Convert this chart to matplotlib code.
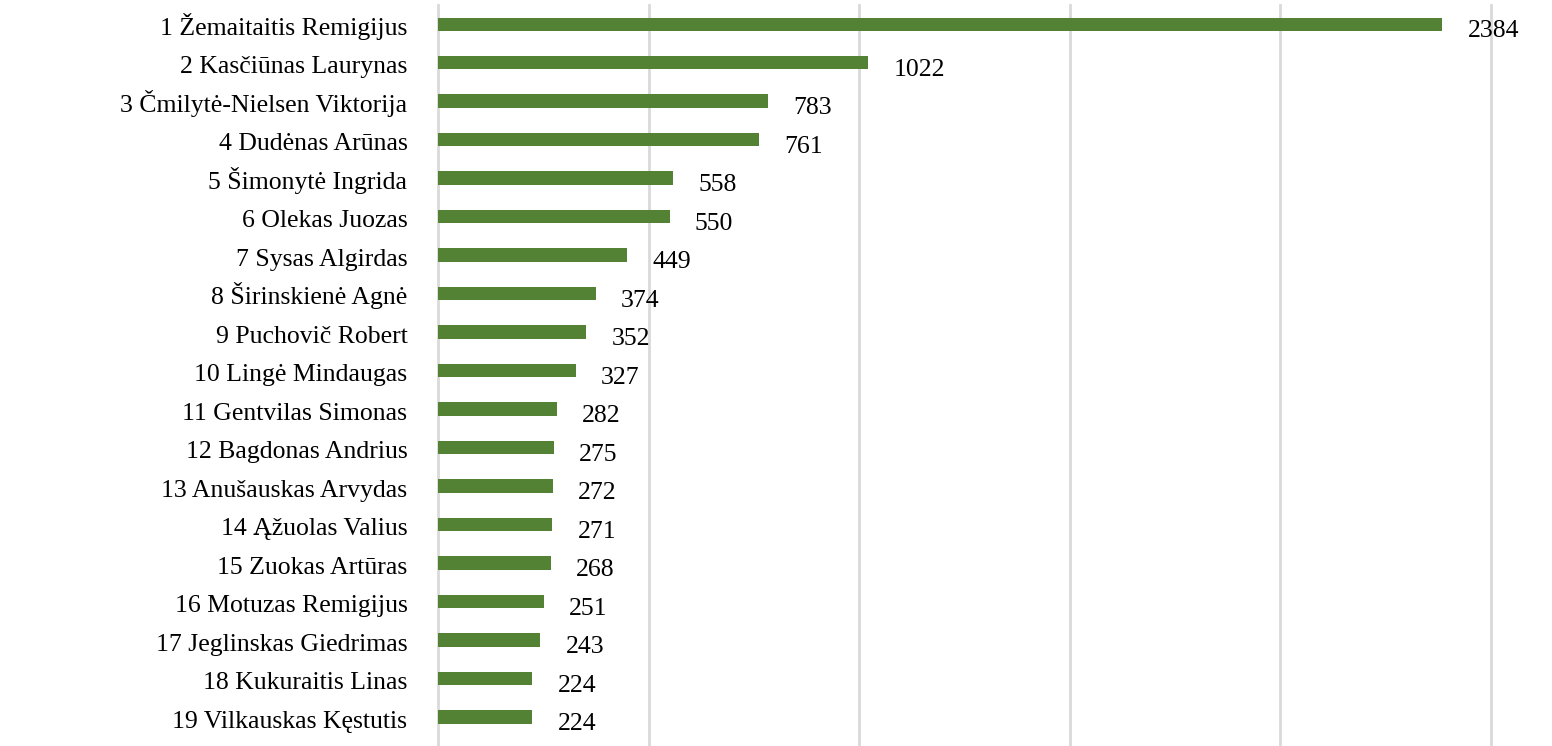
import matplotlib.pyplot as plt
import matplotlib.transforms as mtransforms

names = ["1 Žemaitaitis Remigijus", "2 Kasčiūnas Laurynas", "3 Čmilytė-Nielsen Viktorija",
         "4 Dudėnas Arūnas", "5 Šimonytė Ingrida", "6 Olekas Juozas", "7 Sysas Algirdas",
         "8 Širinskienė Agnė", "9 Puchovič Robert", "10 Lingė Mindaugas",
         "11 Gentvilas Simonas", "12 Bagdonas Andrius", "13 Anušauskas Arvydas",
         "14 Ąžuolas Valius", "15 Zuokas Artūras", "16 Motuzas Remigijus",
         "17 Jeglinskas Giedrimas", "18 Kukuraitis Linas", "19 Vilkauskas Kęstutis"]
values = [2384, 1022, 783, 761, 558, 550, 449, 374, 352, 327,
          282, 275, 272, 271, 268, 251, 243, 224, 224]

plt.rcParams['font.family'] = ['Liberation Serif', 'DejaVu Serif']

fig = plt.figure(figsize=(15.52, 7.46), dpi=100)
ax = fig.add_axes([438 / 1552, 0, (1491 - 438) / 1552, 1 - 5 / 746])

pos = list(range(len(names)))
ax.barh(pos, values, height=0.35, color="#548235", zorder=3)

# value labels: baseline a bit below bar centre
for p, v in zip(pos, values):
    ax.text(v + 60, p + 0.34, str(v), va="baseline", ha="left", fontsize=18.5, clip_on=False)

ax.set_xlim(0, 2500)
ax.set_ylim(18.75, -0.5)
ax.set_xticks([0, 500, 1000, 1500, 2000, 2500])
ax.xaxis.grid(True, color="#d9d9d9", linewidth=2, zorder=0)
for gl in ax.xaxis.get_gridlines():
    gl.set_clip_on(False)
ax.tick_params(axis='x', bottom=False, labelbottom=False)
ax.set_yticks(pos)
ax.set_yticklabels(names, fontsize=18.5)
ax.tick_params(axis='y', length=0, pad=22)
shift = mtransforms.ScaledTranslation(0, -10.5 / 100, fig.dpi_scale_trans)
for lab in ax.get_yticklabels():
    lab.set_va("baseline")
    lab.set_transform(lab.get_transform() + shift)
for s in ["top", "right", "bottom", "left"]:
    ax.spines[s].set_visible(False)

fig.savefig("out.png", dpi=100)
